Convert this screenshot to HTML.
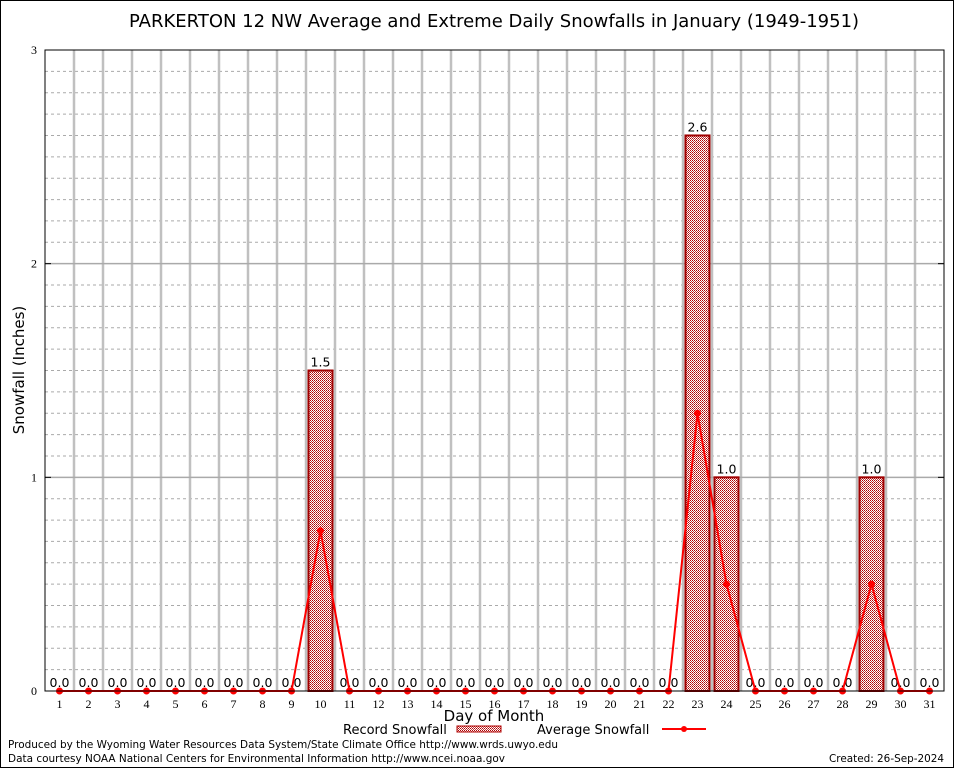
<!DOCTYPE html>
<html><head><meta charset="utf-8"><style>
body{margin:0;background:#fff}
svg text{font-family:"DejaVu Sans","Liberation Sans",sans-serif}
.tk{font-family:"Liberation Serif","DejaVu Serif",serif;font-size:12px}
</style></head><body>
<svg id="c" width="954" height="768" xmlns="http://www.w3.org/2000/svg">
<defs><pattern id="hatch" width="2" height="2" patternUnits="userSpaceOnUse"><rect width="2" height="2" fill="#fff"/><rect width="1" height="1" fill="#b00000"/><rect x="1" y="1" width="1" height="1" fill="#c04040"/></pattern></defs>
<rect x="0.5" y="0.5" width="953" height="767" fill="#fff" stroke="#000"/>
<text x="494" y="27" text-anchor="middle" font-size="18">PARKERTON 12 NW Average and Extreme Daily Snowfalls in January (1949-1951)</text>
<g id="grid"></g><g id="marks"></g>
<rect x="45" y="50" width="899" height="641" fill="none" stroke="#000"/>
<text transform="translate(24,370) rotate(-90)" text-anchor="middle" font-size="15">Snowfall (Inches)</text>
<text x="494" y="721" text-anchor="middle" font-size="15">Day of Month</text>
<g><text x="343" y="734" font-size="13">Record Snowfall</text><rect x="457" y="726" width="44" height="6" fill="url(#hatch)" stroke="#b00000"/></g>
<g><text x="537" y="734" font-size="13">Average Snowfall</text><line x1="662" y1="729" x2="706" y2="729" stroke="red" stroke-width="2"/><circle cx="684" cy="729" r="3" fill="red"/></g>
<text x="8" y="748" font-size="11" textLength="550" lengthAdjust="spacingAndGlyphs">Produced by the Wyoming Water Resources Data System/State Climate Office http://www.wrds.uwyo.edu</text>
<text x="8" y="762" font-size="11" textLength="497" lengthAdjust="spacingAndGlyphs">Data courtesy NOAA National Centers for Environmental Information http://www.ncei.noaa.gov</text>
<text x="944" y="762" font-size="11" text-anchor="end" textLength="115" lengthAdjust="spacingAndGlyphs">Created: 26-Sep-2024</text>
</svg>
<script>
const days=[1,2,3,4,5,6,7,8,9,10,11,12,13,14,15,16,17,18,19,20,21,22,23,24,25,26,27,28,29,30,31];
const recordVals=[0,0,0,0,0,0,0,0,0,1.5,0,0,0,0,0,0,0,0,0,0,0,0,2.6,1.0,0,0,0,0,1.0,0,0];
const avgVals=[0,0,0,0,0,0,0,0,0,0.75,0,0,0,0,0,0,0,0,0,0,0,0,1.3,0.5,0,0,0,0,0.5,0,0];
const yTicks=[0,1,2,3];
const NS="http://www.w3.org/2000/svg";
const L=45,R=944,T=50,B=691,yMax=3;
const slot=(R-L)/days.length;
function xs(d){return L+(d-0.5)*slot;}
function ys(v){return B-v/yMax*(B-T);}
function mk(tag,at,par){const e=document.createElementNS(NS,tag);for(const k in at)e.setAttribute(k,at[k]);par.appendChild(e);return e;}
const g=document.getElementById('grid'),m=document.getElementById('marks');
for(let i=1;i<yMax*10;i++){if(i%10===0)continue;const l=mk('line',{x1:L,x2:R,y1:ys(i/10),y2:ys(i/10),stroke:'#aaa','stroke-dasharray':'3,3'},g);

}
for(let k=1;k<days.length;k++){const l=mk('line',{x1:L+k*slot,x2:L+k*slot,y1:T,y2:B,stroke:'#c0c0c0','stroke-width':2.5},g);

}
yTicks.forEach(v=>{if(v>0&&v<yMax){const l=mk('line',{x1:L,x2:R,y1:ys(v),y2:ys(v),stroke:'#aaa','stroke-width':1.5},g);

}
const t=mk('text',{x:L-8,y:ys(v)+4,'text-anchor':'end',class:'tk'},g);t.textContent=v;


mk('line',{x1:L,x2:L+6,y1:ys(v),y2:ys(v),stroke:'#000'},g);mk('line',{x1:R-6,x2:R,y1:ys(v),y2:ys(v),stroke:'#000'},g);});
days.forEach((d,i)=>{const t=mk('text',{x:xs(d),y:B+17,'text-anchor':'middle',class:'tk'},g);t.textContent=d;


const v=recordVals[i];
if(v>0){const b=mk('rect',{x:xs(d)-12,y:ys(v),width:24,height:B-ys(v),fill:'url(#hatch)',stroke:'#a00000','stroke-width':2},m);

}
const lb=mk('text',{x:xs(d),y:ys(v)-4,'text-anchor':'middle','font-size':12.5},m);lb.textContent=v.toFixed(1);

});
const pts=days.map((d,i)=>xs(d)+','+ys(avgVals[i])).join(' ');
const pl=mk('polyline',{points:pts,fill:'none',stroke:'red','stroke-width':2},m);


days.forEach((d,i)=>{const c=mk('circle',{cx:xs(d),cy:ys(avgVals[i]),r:3.5,fill:'red'},m);

});
</script>
</body></html>
